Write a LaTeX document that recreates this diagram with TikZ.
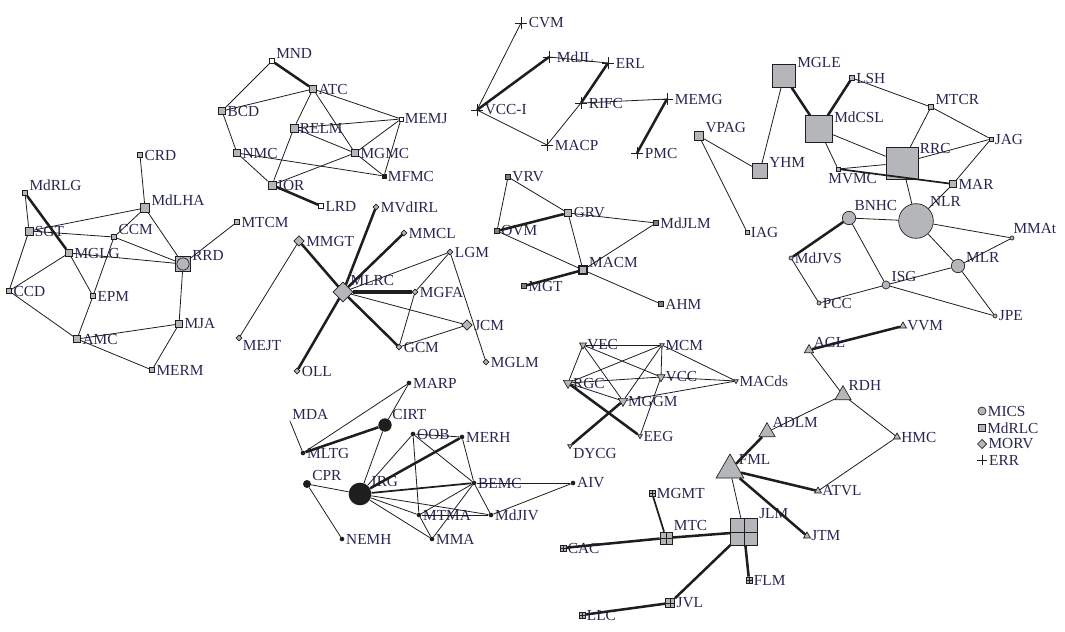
\documentclass[tikz,border=0pt]{standalone}
\usepackage{fontspec}
\setmainfont{Liberation Serif}
\usepackage{xcolor}
\usetikzlibrary{
    shapes.geometric
}
\definecolor{GrisNodo}{HTML}{B5B6B9}
\definecolor{GrisLinea}{HTML}{1E1E1E}
\definecolor{AzulTexto}{HTML}{262650}

\begin{document}
\begin{tikzpicture}[
    x=0.75pt, y=-0.75pt,
    every label/.style={font=\fontsize{11.5}{12}\selectfont, text=AzulTexto, inner sep=1pt},
    sq/.style={rectangle, draw=GrisLinea, fill=GrisNodo, line width=0.5pt, inner sep=0pt, minimum size=#1},
    sq/.default=4pt,
    wsq/.style={sq=#1, fill=white},
    wsq/.default=3.5pt,
    bsq/.style={sq=#1, fill=GrisLinea},
    bsq/.default=3pt,
    dsq/.style={sq=#1, fill=gray, line width=0.8pt},
    dsq/.default=3.5pt,
    xsq/.style={sq=#1, path picture={
        \draw[GrisLinea, line width=0.5pt]
            (path picture bounding box.north) -- (path picture bounding box.south)
            (path picture bounding box.west) -- (path picture bounding box.east);}},
    xsq/.default=4.5pt,
    pls/.style={rectangle, inner sep=0pt, minimum size=#1, path picture={
        \draw[GrisLinea, line width=0.5pt]
            (path picture bounding box.north) -- (path picture bounding box.south)
            (path picture bounding box.west) -- (path picture bounding box.east);}},
    pls/.default=9pt,
    dia/.style={diamond, draw=GrisLinea, fill=GrisNodo, line width=0.5pt, inner sep=0pt, minimum size=#1},
    dia/.default=4.5pt,
    cir/.style={circle, draw=GrisLinea, fill=GrisNodo, line width=0.5pt, inner sep=0pt, minimum size=#1},
    cir/.default=3pt,
    bcir/.style={circle, fill=GrisLinea, inner sep=0pt, minimum size=#1},
    bcir/.default=3.5pt,
    tri/.style={regular polygon, regular polygon sides=3, draw=GrisLinea, fill=GrisNodo, line width=0.5pt, inner sep=0pt, minimum size=#1},
    tri/.default=6pt,
    itri/.style={tri=#1, shape border rotate=180},
    itri/.default=4pt,
    ed/.style={draw=GrisLinea, line width=0.6pt},
    edm/.style={draw=GrisLinea, line width=1.3pt},
    edk/.style={draw=GrisLinea, line width=1.9pt},
    edvk/.style={draw=GrisLinea, line width=3pt}
]
\useasboundingbox (0,0) rectangle (1065,632);

% grupo RRD
\node[sq, label=0:CRD] (CRD) at (140,155) {};
\node[sq=7pt, label=10:MdLHA] (MdLHA) at (145,208) {};
\node[sq, label=10:MdRLG] (MdRLG) at (25,193) {};
\node[sq=6pt, label=0:SGT] (SGT) at (29,231) {};
\node[sq, label=10:CCM] (CCM) at (114,237) {};
\node[sq=5.5pt, label=0:MGLG] (MGLG) at (69,253) {};
\node[sq=11pt, label=15:RRD, path picture={\draw[GrisLinea, fill=GrisNodo] (path picture bounding box.center) circle (4.6pt);}] (RRD) at (183,264) {};
\node[sq, label=0:MTCM] (MTCM) at (237,222) {};
\node[sq, label=0:CCD] (CCD) at (9,291) {};
\node[sq, label=0:EPM] (EPM) at (93,296) {};
\node[sq=5.5pt, label=0:MJA] (MJA) at (179,324) {};
\node[sq=5.5pt, label=0:AMC] (AMC) at (77,339) {};
\node[sq, label=0:MERM] (MERM) at (152,370) {};

% grupo ATC
\node[wsq, label=10:MND] (MND) at (272,61) {};
\node[sq=5.5pt, label=0:ATC] (ATC) at (313,89) {};
\node[sq=5.5pt, label=0:BCD] (BCD) at (222,111) {};
\node[wsq=3pt, label=0:MEMJ] (MEMJ) at (401,119) {};
\node[sq=6pt, label=0:RELM] (RELM) at (294,128) {};
\node[sq=5.5pt, label=0:NMC] (NMC) at (237,153) {};
\node[sq=5.5pt, label=0:MGMC] (MGMC) at (355,153) {};
\node[bsq, label=0:MFMC] (MFMC) at (384,176) {};
\node[sq=6pt, label=0:IOR] (IOR) at (272,185) {};
\node[wsq=4pt, label=0:LRD] (LRD) at (321,206) {};

% grupo MLRC
\node[dia, label=0:MVdIRL] (MVdIRL) at (376,207) {};
\node[dia, label=0:MMCL] (MMCL) at (404,233) {};
\node[dia=8pt, label=0:MMGT] (MMGT) at (299,241) {};
\node[dia, label=0:LGM] (LGM) at (450,252) {};
\node[dia=15pt, label=35:MLRC] (MLRC) at (343,292) {};
\node[dia, label=0:MGFA] (MGFA) at (415,292) {};
\node[dia=8pt, label=0:JCM] (JCM) at (467,325) {};
\node[dia, label=-25:MEJT] (MEJT) at (239,338) {};
\node[dia, label=0:GCM] (GCM) at (399,347) {};
\node[dia, label=0:OLL] (OLL) at (297,371) {};
\node[dia, label=0:MGLM] (MGLM) at (486,362) {};

% grupo RIFC
\node[pls, label=0:CVM] (CVM) at (521,23) {};
\node[pls, label=0:MdJL] (MdJL) at (549,57) {};
\node[pls, label=0:ERL] (ERL) at (608,63) {};
\node[pls, label=0:VCC-I] (VCCI) at (477,110) {};
\node[pls, label=0:RIFC] (RIFC) at (581,103) {};
\node[pls, label=0:MEMG] (MEMG) at (667,99) {};
\node[pls, label=0:MACP] (MACP) at (547,145) {};
\node[pls, label=0:PMC] (PMC) at (637,153) {};

% grupo RRC
\node[sq=17pt, label=30:MGLE] (MGLE) at (784,76) {};
\node[sq=3.5pt, label=0:LSH] (LSH) at (852,78) {};
\node[sq=20pt, label=20:MdCSL] (MdCSL) at (819,129) {};
\node[sq, label=10:MTCR] (MTCR) at (931,107) {};
\node[sq=7pt, label=20:VPAG] (VPAG) at (699,136) {};
\node[sq=3pt, label=0:JAG] (JAG) at (991,139) {};
\node[sq=24pt, label=25:RRC] (RRC) at (902,163) {};
\node[sq=11pt, label=15:YHM] (YHM) at (760,171) {};
\node[sq=3pt, label={[xshift=11pt]below:MVMC}] (MVMC) at (838,169) {};
\node[sq=5.5pt, label=0:MAR] (MAR) at (953,184) {};
\node[sq=3pt, label=0:IAG] (IAG) at (747,232) {};

% grupo NLR
\node[cir=26pt, label=45:NLR] (NLR) at (916,221) {};
\node[cir=10pt, label=55:BNHC] (BNHC) at (849,218) {};
\node[cir, label={[anchor=south west]90:MMAt}] (MMAt) at (1012,238) {};
\node[cir=10pt, label=20:MLR] (MLR) at (958,266) {};
\node[cir, label=0:MdJVS] (MdJVS) at (791,258) {};
\node[cir=6pt, label=20:ISG] (ISG) at (886,285) {};
\node[cir, label=0:PCC] (PCC) at (819,303) {};
\node[cir, label=0:JPE] (JPE) at (995,316) {};

% grupo MACM
\node[dsq, label=0:VRV] (VRV) at (508,177) {};
\node[dsq=5.5pt, fill=GrisNodo, label=0:GRV] (GRV) at (568,213) {};
\node[dsq, label=0:MdJLM] (MdJLM) at (656,223) {};
\node[dsq, label=0:OVM] (OVM) at (497,231) {};
\node[dsq=6pt, fill=GrisNodo, label=10:MACM] (MACM) at (583,270) {};
\node[dsq, label=0:MGT] (MGT) at (524,286) {};
\node[dsq, label=0:AHM] (AHM) at (661,304) {};

% grupo MCM
\node[itri=6pt, label=0:VEC] (VEC) at (583,345) {};
\node[itri, label=0:MCM] (MCM) at (662,345) {};
\node[itri=8pt, label=0:RGC] (RGC) at (568,383) {};
\node[itri=7pt, label=0:VCC] (VCC) at (661,377) {};
\node[itri, label=0:MACds] (MACds) at (736,381) {};
\node[itri=8pt, label=0:MGGM] (MGGM) at (623,401) {};
\node[itri, label=0:EEG] (EEG) at (640,436) {};
\node[itri, label=-10:DYCG] (DYCG) at (570,446) {};

% grupo IRG
\node[bcir, label=0:MARP] (MARP) at (409,383) {};
\node[bcir=1pt, label=20:MDA] (MDA) at (290,421) {};
\node[bcir=10pt, label=35:CIRT] (CIRT) at (385,425) {};
\node[bcir, label=0:OOB] (OOB) at (413,434) {};
\node[bcir, label=0:MERH] (MERH) at (462,437) {};
\node[bcir, label=0:MLTG] (MLTG) at (303,453) {};
\node[bcir=6pt, label=30:CPR] (CPR) at (307,484) {};
\node[bcir=17pt, label=30:IRG] (IRG) at (360,494) {};
\node[bcir, label=0:BEMC] (BEMC) at (474,483) {};
\node[bcir, label=0:AIV] (AIV) at (573,483) {};
\node[bcir, label=0:MTMA] (MTMA) at (419,515) {};
\node[bcir, label=0:MdJIV] (MdJIV) at (491,515) {};
\node[bcir, label=0:NEMH] (NEMH) at (342,539) {};
\node[bcir, label=0:MMA] (MMA) at (432,539) {};

% grupo FML / JLM
\node[tri, label=0:VVM] (VVM) at (903,326) {};
\node[tri=8pt, label=10:AGL] (AGL) at (809,350) {};
\node[tri=14pt, label=35:RDH] (RDH) at (843,395) {};
\node[tri=14pt, label=35:ADLM] (ADLM) at (767,432) {};
\node[tri, label=0:HMC] (HMC) at (897,437) {};
\node[tri=24pt, label=30:FML] (FML) at (730,470) {};
\node[tri, label=0:ATVL] (ATVL) at (818,491) {};
\node[tri, label=0:JTM] (JTM) at (807,536) {};
\node[xsq, label=0:MGMT] (MGMT) at (652,493) {};
\node[xsq=9pt, label=40:MTC] (MTC) at (666,538) {};
\node[xsq=20pt, label=40:JLM] (JLM) at (744,532) {};
\node[xsq, label=0:CAC] (CAC) at (563,548) {};
\node[xsq, label=0:FLM] (FLM) at (749,580) {};
\node[xsq=7pt, label=0:JVL] (JVL) at (670,603) {};
\node[xsq, label=0:LLC] (LLC) at (582,615) {};

% leyenda
\node[cir=6pt, label=0:MICS] (lgMICS) at (982,411) {};
\node[sq=5pt, label=0:MdRLC] (lgMdRLC) at (982,428) {};
\node[dia=7pt, label=0:MORV] (lgMORV) at (982,444) {};
\node[pls=8pt, label=0:ERR] (lgERR) at (982,460) {};

% conexiones
\foreach \a/\b in {CRD/MdLHA, MdRLG/SGT, SGT/MdLHA, SGT/CCM, SGT/CCD, MdLHA/CCM,
    MdLHA/RRD, CCM/RRD, CCM/EPM, MGLG/RRD, MGLG/CCD, MGLG/EPM, EPM/AMC, CCD/AMC,
    AMC/MJA, AMC/MERM, MJA/MERM, MJA/RRD, RRD/MTCM, MEJT/MMGT,
    MND/BCD, BCD/ATC, BCD/NMC, ATC/MEMJ, ATC/RELM, ATC/MGMC, RELM/MEMJ, RELM/MGMC,
    RELM/IOR, NMC/IOR, NMC/MFMC, MGMC/MEMJ, MGMC/MFMC, MEMJ/MFMC, MGMC/IOR,
    MLRC/LGM, MLRC/JCM, LGM/MGFA, LGM/MGLM, MGFA/GCM, GCM/JCM,
    MGLE/YHM, LSH/MTCR, MTCR/JAG, MTCR/RRC, MdCSL/RRC, MdCSL/MVMC, MVMC/RRC,
    RRC/JAG, MAR/JAG, RRC/NLR, MAR/NLR, VPAG/YHM, VPAG/IAG, NLR/BNHC, NLR/MMAt, NLR/MLR,
    BNHC/ISG, MdJVS/PCC, PCC/ISG, ISG/MLR, ISG/JPE, MLR/JPE, MLR/MMAt,
    VRV/OVM, VRV/GRV, OVM/MACM, GRV/MdJLM, GRV/MACM, MdJLM/MACM, MACM/AHM,
    VEC/MCM, VEC/RGC, VEC/VCC, VEC/MGGM, MCM/RGC, MCM/VCC, MCM/MGGM, MCM/MACds,
    RGC/VCC, RGC/MGGM, VCC/MACds, VCC/EEG, MGGM/MACds,
    MDA/MLTG, MLTG/MARP, MARP/CIRT, CIRT/IRG, CPR/IRG, CPR/NEMH, IRG/OOB, IRG/MTMA,
    IRG/MdJIV, IRG/MMA, OOB/MERH, OOB/MTMA, OOB/BEMC, MERH/BEMC, BEMC/AIV, BEMC/MTMA,
    BEMC/MMA, BEMC/MdJIV, MTMA/MdJIV, MTMA/MMA, AIV/MdJIV,
    AGL/RDH, RDH/ADLM, RDH/HMC, HMC/ATVL, FML/JLM}
    \draw[ed] (\a) -- (\b);

% las cruces se unen por el centro
\foreach \a/\b in {VCCI/CVM, VCCI/MACP, MdJL/ERL, RIFC/MACP, RIFC/MEMG}
    \draw[ed] (\a.center) -- (\b.center);
\foreach \a/\b in {VCCI/MdJL, ERL/RIFC, MEMG/PMC}
    \draw[edk] (\a.center) -- (\b.center);

\foreach \a/\b in {MVMC/MAR, IRG/BEMC, MTC/MGMT}
    \draw[edm] (\a) -- (\b);

\foreach \a/\b in {MdRLG/MGLG, MND/ATC, IOR/LRD, MLRC/MVdIRL, MLRC/MMCL, MLRC/MMGT,
    MLRC/GCM, MLRC/OLL, MGLE/MdCSL, LSH/MdCSL,
    BNHC/MdJVS, OVM/GRV, MGT/MACM, RGC/EEG, MGGM/DYCG, MLTG/CIRT, IRG/MERH,
    AGL/VVM, ADLM/FML, FML/ATVL, FML/JTM, JLM/MTC, JLM/FLM, JLM/JVL, MTC/CAC, JVL/LLC}
    \draw[edk] (\a) -- (\b);

\draw[edvk] (MLRC) -- (MGFA);

\end{tikzpicture}
\end{document}
